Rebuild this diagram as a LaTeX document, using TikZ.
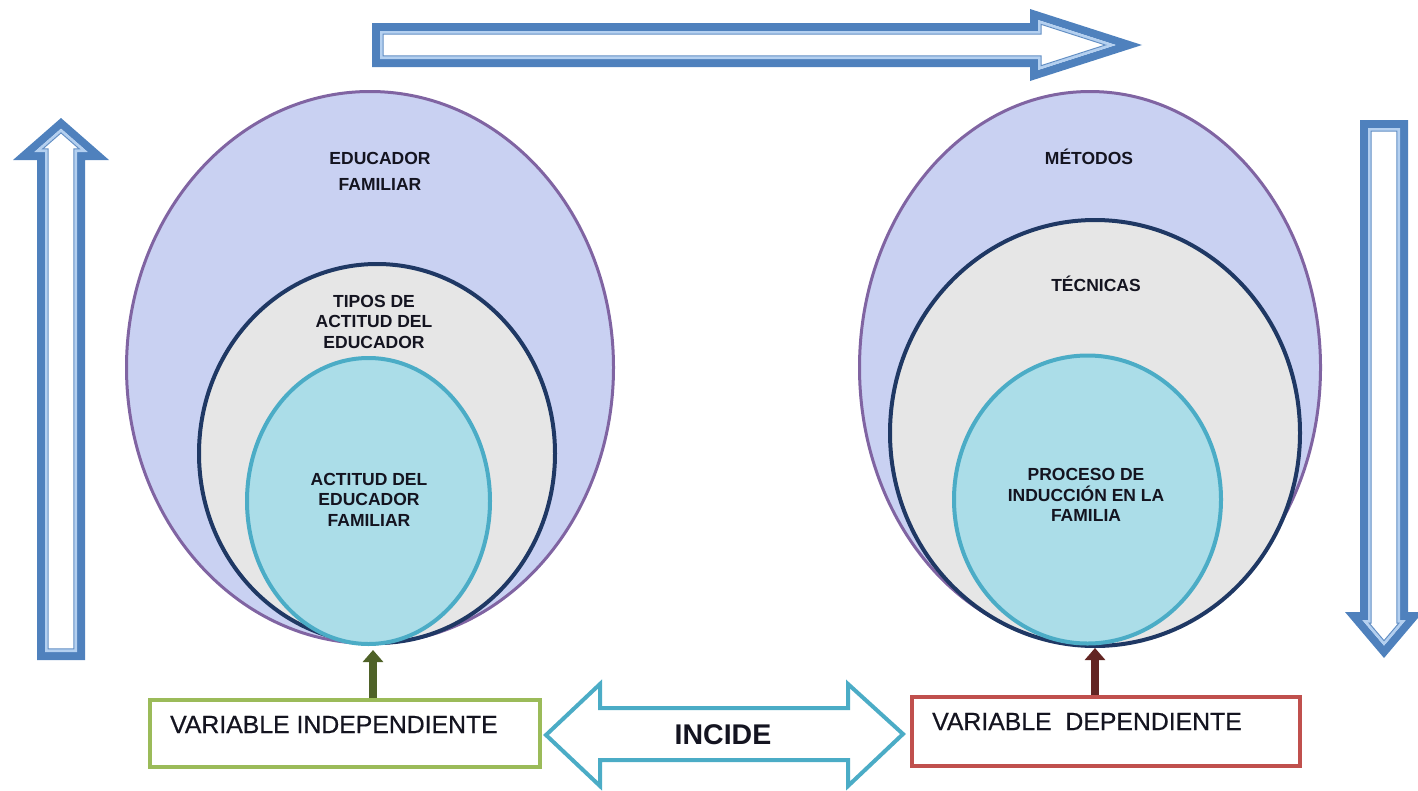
\documentclass[tikz,border=0pt]{standalone}
\usepackage{fontspec}
\setmainfont{Liberation Sans}
\newfontfamily\heavyvar[FakeBold=0.6]{Liberation Sans}
\usetikzlibrary{shapes.geometric,arrows.meta}
\definecolor{ablue}{HTML}{4F81BD}
\definecolor{alight}{HTML}{B4D0F0}
\definecolor{lav}{HTML}{C9D1F2}
\definecolor{purp}{HTML}{8064A2}
\definecolor{navy}{HTML}{1F3864}
\definecolor{granite}{HTML}{E6E6E6}
\definecolor{aqua}{HTML}{ABDDE8}
\definecolor{tealc}{HTML}{4BACC6}
\definecolor{olivec}{HTML}{4F6228}
\definecolor{brick}{HTML}{632523}
\definecolor{vgreen}{HTML}{9BBB59}
\definecolor{vred}{HTML}{C0504D}
\definecolor{ink}{HTML}{141420}
\newcommand{\arrowpoly}[6]{%
  \pgfmathsetmacro\hb{#1-#3}%
  \pgfmathsetmacro\sn{#4/sqrt(#3*#3+#4*#4)}%
  \pgfmathsetmacro\ti{#1-#5/\sn}%
  \pgfmathsetmacro\wy{(\ti-\hb-#5)*#4/#3}%
  \draw[#6] (#5,{#2-#5}) -- ({\hb+#5},{#2-#5}) -- ({\hb+#5},\wy) -- (\ti,0)
    -- ({\hb+#5},{-\wy}) -- ({\hb+#5},{-(#2-#5)}) -- (#5,{-(#2-#5)}) -- cycle;}
\newcommand{\hollowarrow}[4]{%
  \arrowpoly{#1}{#2}{#3}{#4}{4}{harrowout}%
  \arrowpoly{#1}{#2}{#3}{#4}{9.4}{harrowmid}%
  \arrowpoly{#1}{#2}{#3}{#4}{11.2}{harrowin}}
\tikzset{
  harrowout/.style={draw=ablue, line width=8pt, fill=white, line join=miter},
  harrowmid/.style={draw=alight, line width=2.8pt, line join=miter},
  harrowin/.style={draw=ablue!90, line width=1pt, line join=miter},
  ring/.style={ellipse, inner sep=0pt, outer sep=0pt},
  outerring/.style={ring, draw=purp, line width=3pt, fill=lav},
  midring/.style={ring, draw=navy, line width=4pt, fill=granite},
  innerring/.style={ring, draw=tealc, line width=4pt, fill=aqua},
  ctext/.style={align=center, text=ink, inner sep=0pt, font=\bfseries\fontsize{17.5}{20.5}\selectfont},
  varbox/.style={draw, line width=4pt, fill=white, inner sep=0pt},
  vtext/.style={anchor=west, text=ink, inner sep=0pt, font=\heavyvar\fontsize{24.8}{26}\selectfont},
  uparr/.style={line width=8pt, -{Triangle[width=20pt,length=12pt]}},
  incidearrow/.style={draw=tealc, line width=4pt, fill=white, line join=miter}
}
\begin{document}
\begin{tikzpicture}[x=1pt,y=-1pt]
\useasboundingbox (0,0) rectangle (1418,790);
% big hollow arrows
\begin{scope}[shift={(372,45)}]
  \hollowarrow{770}{22}{112}{36}
\end{scope}
\begin{scope}[shift={(61,660)},rotate=90]
  \hollowarrow{542}{24}{42}{48}
\end{scope}
\begin{scope}[shift={(1384,120)},rotate=-90]
  \hollowarrow{538}{24}{46}{39}
\end{scope}
% left nested ellipses
\node[outerring, minimum width=487pt, minimum height=552pt] (outL) at (370,367.5) {};
\node[midring, minimum width=356pt, minimum height=379pt] (midL) at (377,453.5) {};
\node[innerring, minimum width=243pt, minimum height=286pt] (inL) at (368.5,501) {};
% right nested ellipses
\node[outerring, minimum width=461pt, minimum height=552pt] (outR) at (1090,367.5) {};
\node[midring, minimum width=410pt, minimum height=426pt] (midR) at (1095,433) {};
\node[innerring, minimum width=267pt, minimum height=288pt] (inR) at (1087.5,499.5) {};
% texts in ellipses
\node[ctext, font=\bfseries\fontsize{17.5}{26.5}\selectfont] (tEduc) at (380,171.5) {EDUCADOR\\FAMILIAR};
\node[ctext] (tTipos) at (374,321.5) {TIPOS DE\\ACTITUD DEL\\EDUCADOR};
\node[ctext] (tAct) at (369,499.5) {ACTITUD DEL\\EDUCADOR\\FAMILIAR};
\node[ctext] (tMet) at (1089,157) {MÉTODOS};
\node[ctext] (tTec) at (1096,283.5) {TÉCNICAS};
\node[ctext] (tProc) at (1086,495) {PROCESO DE\\INDUCCIÓN EN LA\\FAMILIA};
% variable boxes
\node[varbox, draw=vgreen, minimum width=390pt, minimum height=67pt] (vi) at (345,733.5) {};
\node[vtext] (viText) at (170,724.5) {VARIABLE INDEPENDIENTE};
\node[varbox, draw=vred, minimum width=388pt, minimum height=69pt] (vd) at (1106,731.5) {};
\node[vtext] (vdText) at (932,721.5) {VARIABLE\ \ DEPENDIENTE};
% small arrows to the circles
\coordinate (gTip) at (373,650);
\coordinate (rTip) at (1095,648);
\draw[uparr, draw=olivec, fill=olivec] (vi.north -| gTip) -- (gTip);
\draw[uparr, draw=brick, fill=brick] (vd.north -| rTip) -- (rTip);
% INCIDE double arrow
\draw[incidearrow] (546,735) -- (600,684) -- (600,708) -- (848,708) -- (848,684)
  -- (903,734) -- (848,786) -- (848,760) -- (600,760) -- (600,786) -- cycle;
\node[text=ink, inner sep=0pt, font=\bfseries\fontsize{28.5}{28}\selectfont] (inc) at (723,735) {INCIDE};
\end{tikzpicture}
\end{document}
